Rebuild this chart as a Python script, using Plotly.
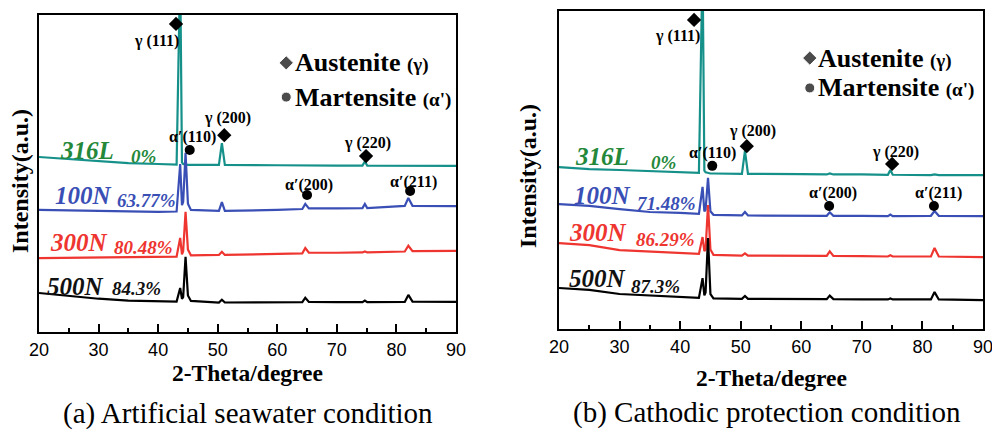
import plotly.graph_objects as go

# ---------------- data (intensity in arbitrary units, offset stacked) ----------------
two_theta = [20, 25, 30, 35, 40, 43.1, 43.7, 44.0, 44.2, 44.6, 45.0, 45.5, 50.2, 50.7, 51.2,
             60, 64.2, 64.7, 65.3, 70, 74.3, 74.7, 75.1, 81.4, 82.0, 82.7, 90]

series_names = ["316L", "100N", "300N", "500N"]

# (a) Artificial seawater condition
a_316L = [55.2, 54.6, 53.9, 53.3, 53.0, 52.8, 115, 53.5, 53.0, 52.8, 52.7, 52.7, 52.7, 59.6, 52.7,
          52.6, 52.5, 52.7, 52.5, 52.5, 52.5, 53.8, 52.5, 52.4, 52.5, 52.4, 52.4]
a_100N = [38.5, 38.3, 38.2, 38.0, 37.9, 38.0, 53.0, 40.0, 41.0, 56.5, 40.5, 38.5, 38.2, 41.0, 38.2,
          38.5, 38.8, 40.4, 39.0, 39.0, 39.1, 40.4, 39.1, 39.8, 42.3, 39.8, 39.7]
a_300N = [23.3, 23.4, 23.5, 23.6, 23.7, 23.8, 29.7, 24.5, 25.5, 37.9, 26.0, 24.2, 24.3, 25.3, 24.3,
          24.6, 24.8, 26.5, 25.0, 25.0, 25.1, 25.4, 25.1, 25.4, 27.2, 25.5, 25.6]
a_500N = [12.3, 11.3, 10.5, 9.9, 9.6, 9.6, 13.9, 10.5, 11.0, 23.7, 11.5, 9.8, 9.3, 10.2, 9.3,
          9.3, 9.4, 10.8, 9.5, 9.4, 9.4, 9.9, 9.4, 9.5, 11.7, 9.6, 9.5]

# (b) Cathodic protection condition
b_316L = [50.9, 50.3, 50.0, 49.7, 49.4, 49.1, 115, 49.8, 49.3, 49.0, 48.9, 48.9, 48.8, 56.0, 48.8,
          48.7, 48.6, 48.9, 48.6, 48.6, 48.5, 50.0, 48.5, 48.4, 48.6, 48.4, 48.4]
b_100N = [39.3, 38.7, 37.7, 36.8, 36.5, 36.2, 44.7, 37.0, 37.5, 47.5, 37.0, 35.9, 35.7, 36.8, 35.7,
          35.6, 35.6, 36.7, 35.6, 35.6, 35.5, 36.0, 35.5, 35.6, 37.1, 35.6, 35.5]
b_300N = [27.0, 26.4, 24.8, 24.3, 23.9, 23.6, 28.9, 24.5, 25.0, 39.0, 25.0, 23.3, 23.1, 23.8, 23.1,
          23.0, 23.0, 24.4, 23.0, 22.9, 22.8, 23.2, 22.8, 22.8, 25.5, 22.8, 22.6]
b_500N = [12.9, 12.3, 11.0, 10.5, 10.1, 9.8, 16.0, 10.6, 11.5, 28.6, 11.0, 9.6, 9.5, 10.4, 9.5,
          9.4, 9.4, 10.5, 9.4, 9.3, 9.3, 9.6, 9.3, 9.3, 11.6, 9.3, 9.1]

a_percent = ["0%", "63.77%", "80.48%", "84.3%"]
b_percent = ["0%", "71.48%", "86.29%", "87.3%"]

x_ticks = [20, 30, 40, 50, 60, 70, 80, 90]

# ---------------- styling ----------------
line_colors = ["#16918a", "#3a4fb5", "#ee3530", "#000000"]
text_colors = ["#24883a", "#3a4fb5", "#ee3530", "#111111"]
SERIF = "Liberation Serif"
SANS = "Liberation Sans"

fig = go.Figure()

panels = [
    dict(xa="x", ya="y", data=[a_316L, a_100N, a_300N, a_500N]),
    dict(xa="x2", ya="y2", data=[b_316L, b_100N, b_300N, b_500N]),
]
for p in panels:
    for name, ys, col in zip(series_names, p["data"], line_colors):
        fig.add_trace(go.Scatter(x=two_theta, y=ys, mode="lines", name=name,
                                 line=dict(color=col, width=2.2), xaxis=p["xa"], yaxis=p["ya"],
                                 showlegend=False, hoverinfo="skip"))

# peak labels: (text, text_x, text_y, marker_x, marker_y, symbol)
peaks_a = [
    ("γ (111)", 39.8, 91.8, 43.0, 97.2, "diamond"),
    ("α′(110)", 45.8, 61.5, 45.3, 57.4, "circle"),
    ("γ (200)", 51.7, 67.5, 51.1, 62.1, "diamond"),
    ("γ (220)", 75.2, 59.6, 74.9, 55.5, "diamond"),
    ("α′(200)", 65.3, 46.4, 65.0, 43.2, "circle"),
    ("α′(211)", 82.8, 47.3, 82.3, 44.5, "circle"),
]
peaks_b = [
    ("γ (111)", 39.6, 92.1, 42.3, 97.2, "diamond"),
    ("α′(110)", 45.4, 55.3, 45.3, 51.3, "circle"),
    ("γ (200)", 51.9, 62.3, 51.0, 57.5, "diamond"),
    ("γ (220)", 75.5, 55.7, 75.0, 51.9, "diamond"),
    ("α′(200)", 65.2, 42.8, 64.6, 38.7, "circle"),
    ("α′(211)", 82.6, 42.8, 81.9, 38.7, "circle"),
]
# legend key positions: (marker_x, diamond_y, circle_y, text_x)
legend_a = (61.5, 84.9, 74.1, 62.6)
legend_b = (61.4, 85.2, 75.8, 62.5)
# series label positions: (name_x, name_y, pct_x, pct_y) per series
labels_a = [(28.1, 57.4, 37.5, 55.5), (27.4, 43.2, 38.1, 41.6), (26.7, 28.1, 37.5, 26.8), (26.2, 14.5, 36.3, 13.6)]
labels_b = [(27.1, 54.4, 37.2, 52.2), (27.1, 42.1, 37.8, 39.6), (26.4, 30.2, 37.5, 28.0), (26.3, 16.0, 36.0, 13.5)]

annotations = []
for xa, ya, peaks, leg, labs, pcts in [("x", "y", peaks_a, legend_a, labels_a, a_percent),
                                       ("x2", "y2", peaks_b, legend_b, labels_b, b_percent)]:
    for txt, tx, ty, mx, my, sym in peaks:
        annotations.append(dict(x=tx, y=ty, xref=xa, yref=ya, text=f"<b>{txt}</b>", showarrow=False,
                                font=dict(family=SERIF, size=16, color="black"),
                                xanchor="center", yanchor="middle"))
        fig.add_trace(go.Scatter(x=[mx], y=[my], mode="markers", xaxis=xa, yaxis=ya,
                                 marker=dict(symbol=sym, size=11 if sym == "diamond" else 10,
                                             color="black"),
                                 showlegend=False, hoverinfo="skip"))
    lx, dy, cy, tx = leg
    fig.add_trace(go.Scatter(x=[lx, lx], y=[dy, cy], mode="markers", xaxis=xa, yaxis=ya,
                             marker=dict(symbol=["diamond", "circle"], size=[11, 10], color="black"),
                             showlegend=False, hoverinfo="skip"))
    annotations.append(dict(x=tx, y=dy, xref=xa, yref=ya, showarrow=False, xanchor="left", yanchor="middle",
                            text="<b>Austenite</b> <b><span style='font-size:19px'>(γ)</span></b>",
                            font=dict(family=SERIF, size=26, color="black")))
    annotations.append(dict(x=tx, y=cy, xref=xa, yref=ya, showarrow=False, xanchor="left", yanchor="middle",
                            text="<b>Martensite</b> <b><span style='font-size:19px'>(α')</span></b>",
                            font=dict(family=SERIF, size=26, color="black")))
    for (nx, ny, px, py), name, pct, col in zip(labs, series_names, pcts, text_colors):
        annotations.append(dict(x=nx, y=ny, xref=xa, yref=ya, showarrow=False,
                                xanchor="center", yanchor="middle",
                                text=f"<b><i>{name}</i></b>",
                                font=dict(family=SERIF, size=25, color=col)))
        annotations.append(dict(x=px, y=py, xref=xa, yref=ya, showarrow=False,
                                xanchor="center", yanchor="middle",
                                text=f"<b><i>{pct}</i></b>",
                                font=dict(family=SERIF, size=19, color=col)))

# axis titles and captions (paper coords)
for x, y in [(20 / 992, 1 - 181 / 432), (528 / 992, 1 - 176 / 432)]:
    annotations.append(dict(x=x, y=y, xref="paper", yref="paper", showarrow=False, textangle=-90,
                            xanchor="center", yanchor="middle",
                            text="<b>Intensity(a.u.)</b>", font=dict(family=SERIF, size=24, color="black")))
for x, y in [(247.5 / 992, 1 - 373 / 432), (771 / 992, 1 - 378 / 432)]:
    annotations.append(dict(x=x, y=y, xref="paper", yref="paper", showarrow=False,
                            xanchor="center", yanchor="middle",
                            text="<b>2-Theta/degree</b>", font=dict(family=SERIF, size=23.5, color="black")))
for x, y, txt in [(248 / 992, 1 - 413 / 432, "(a) Artificial seawater condition"),
                  (767 / 992, 1 - 412 / 432, "(b) Cathodic protection condition")]:
    annotations.append(dict(x=x, y=y, xref="paper", yref="paper", showarrow=False,
                            xanchor="center", yanchor="middle",
                            text=txt, font=dict(family=SERIF, size=29, color="black")))

xaxis_common = dict(range=[20, 90], tickvals=x_ticks, ticks="inside", ticklen=8, tickwidth=2,
                    tickcolor="black", showline=True, linecolor="black", linewidth=2, mirror=True,
                    showgrid=False, zeroline=False, automargin=False, ticklabeloverflow="allow",
                    tickfont=dict(family=SANS, size=18, color="black"),
                    minor=dict(ticks="inside", ticklen=4, tickwidth=2, tickcolor="black", dtick=5,
                               tick0=20, showgrid=False))
yaxis_common = dict(range=[0, 100], showticklabels=False, ticks="", showline=True, linecolor="black",
                    linewidth=2, mirror=True, showgrid=False, zeroline=False, automargin=False)

fig.update_layout(
    width=992, height=432, margin=dict(l=0, r=0, t=0, b=0),
    paper_bgcolor="white", plot_bgcolor="white",
    xaxis=dict(domain=[39 / 992, 456 / 992], anchor="y", **xaxis_common),
    yaxis=dict(domain=[1 - 332 / 432, 1 - 15 / 432], anchor="x", **yaxis_common),
    xaxis2=dict(domain=[559 / 992, 983 / 992], anchor="y2", **xaxis_common),
    yaxis2=dict(domain=[1 - 329 / 432, 1 - 11 / 432], anchor="x2", **yaxis_common),
    annotations=annotations,
)

fig.write_html("out.html")
